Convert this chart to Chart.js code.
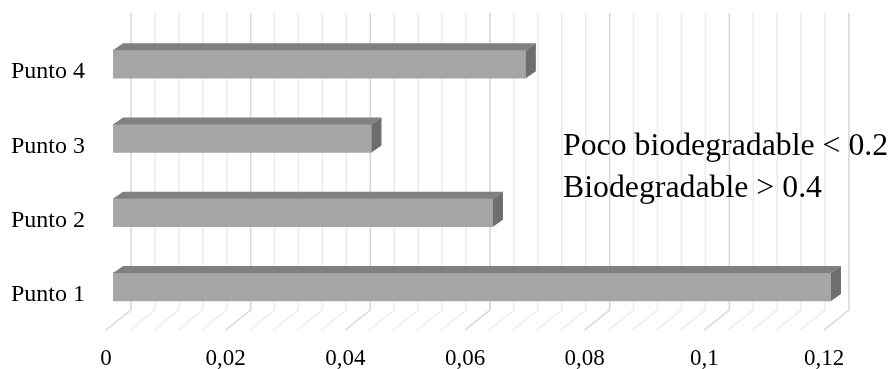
<!DOCTYPE html>
<html>
<head>
<meta charset="utf-8">
<script src="https://cdn.jsdelivr.net/npm/chart.js@4/dist/chart.umd.min.js"></script>
<style>
  html, body { margin: 0; padding: 0; background: #fff; }
  #wrap { width: 893px; height: 369px; }
</style>
</head>
<body>
<div id="wrap"><canvas id="chart" width="893" height="369"></canvas></div>
<script>
const puntos = ['Punto 1', 'Punto 2', 'Punto 3', 'Punto 4'];
const valores = [0.12, 0.0635, 0.0432, 0.069];
const xTicks = [0, 0.02, 0.04, 0.06, 0.08, 0.1, 0.12];
const nota = ['Poco biodegradable < 0.2', 'Biodegradable > 0.4'];

const serif = "'Liberation Serif', 'Times New Roman', serif";

// back wall + floor grid (pseudo 3D)
const wall3d = {
    id: 'wall3d',
    beforeDatasetsDraw(chart) {
        const { ctx, chartArea: a, scales: { x } } = chart;
        const frontY = a.bottom + 6, backY = a.bottom - 14, topY = a.top - 14;
        const max = xTicks[xTicks.length - 1];
        ctx.save();
        ctx.lineWidth = 1.5;
        for (let i = 0; i <= 30; i++) {
            const v = max * i / 30;
            const fx = x.getPixelForValue(v) - 7;
            const bx = fx + 25;
            ctx.strokeStyle = i % 5 === 0 ? '#d6d6d6' : '#ebebeb';
            ctx.beginPath();
            ctx.moveTo(fx, frontY);
            ctx.lineTo(bx, backY);
            ctx.lineTo(bx, topY);
            ctx.stroke();
        }
        ctx.restore();
    }
};

// top and side faces of the bars
const bar3d = {
    id: 'bar3d',
    afterDatasetsDraw(chart) {
        const ctx = chart.ctx;
        const dx = 10, dy = -7;
        ctx.save();
        chart.getDatasetMeta(0).data.forEach(bar => {
            const { x, y, base, height } = bar.getProps(['x', 'y', 'base', 'height'], true);
            const top = y - height / 2, bottom = y + height / 2;
            ctx.fillStyle = '#808080';
            ctx.beginPath();
            ctx.moveTo(base, top);
            ctx.lineTo(base + dx, top + dy);
            ctx.lineTo(x + dx, top + dy);
            ctx.lineTo(x, top);
            ctx.closePath();
            ctx.fill();
            ctx.fillStyle = '#6e6e6e';
            ctx.beginPath();
            ctx.moveTo(x, top);
            ctx.lineTo(x + dx, top + dy);
            ctx.lineTo(x + dx, bottom + dy);
            ctx.lineTo(x, bottom);
            ctx.closePath();
            ctx.fill();
        });
        ctx.restore();
    }
};

const notaPlugin = {
    id: 'nota',
    afterDraw(chart) {
        const ctx = chart.ctx;
        ctx.save();
        ctx.font = '31.8px ' + serif;
        ctx.fillStyle = '#000';
        ctx.textBaseline = 'alphabetic';
        nota.forEach((t, i) => ctx.fillText(t, 563, 155 + i * 42));
        ctx.restore();
    }
};

new Chart(document.getElementById('chart'), {
    type: 'bar',
    data: {
        labels: puntos,
        datasets: [{
            data: valores,
            backgroundColor: '#a6a6a6',
            borderWidth: 0,
            barThickness: 28
        }]
    },
    options: {
        indexAxis: 'y',
        responsive: false,
        animation: false,
        layout: { padding: { top: 27, right: 62, left: 0, bottom: 0 } },
        plugins: { legend: { display: false }, tooltip: { enabled: false } },
        scales: {
            x: {
                min: 0,
                max: 0.12,
                afterBuildTicks: s => { s.ticks = xTicks.map(v => ({ value: v })); },
                afterFit: s => { s.height = 45; },
                grid: { display: false, drawTicks: false },
                border: { display: false },
                ticks: {
                    padding: 21,
                    labelOffset: -7,
                    color: '#000',
                    font: { family: serif, size: 23 },
                    maxRotation: 0,
                    callback: v => String(v).replace('.', ',')
                }
            },
            y: {
                reverse: true,
                afterFit: s => { s.width = 113; s.paddingTop = 0; s.paddingBottom = 0; },
                grid: { display: false, drawTicks: false },
                border: { display: false },
                ticks: {
                    padding: 28,
                    labelOffset: 8,
                    color: '#000',
                    font: { family: serif, size: 24 }
                }
            }
        }
    },
    plugins: [wall3d, bar3d, notaPlugin]
});
</script>
</body>
</html>
